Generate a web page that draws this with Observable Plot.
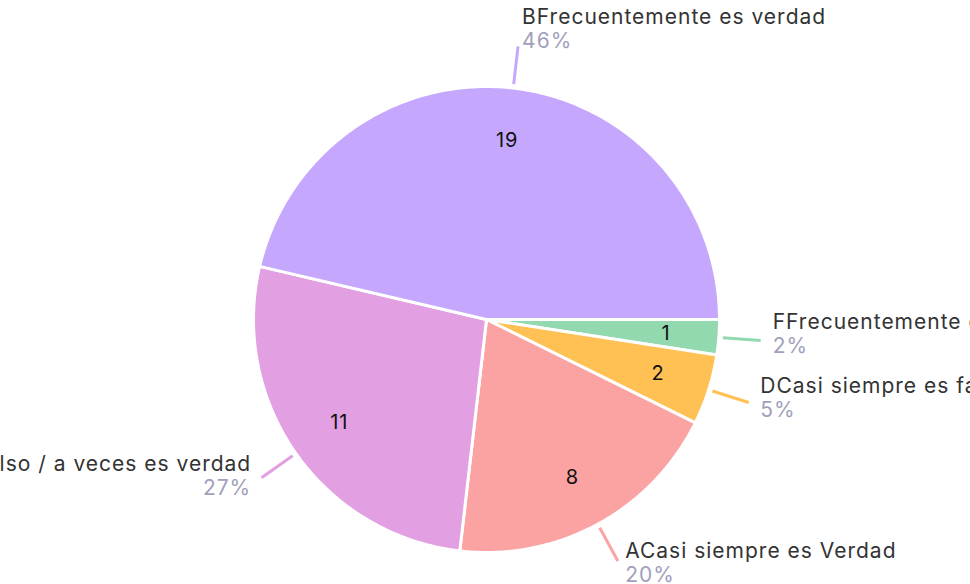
<!DOCTYPE html>
<html>
<head>
<meta charset="utf-8">
<script src="https://cdn.jsdelivr.net/npm/d3@7"></script>
<script src="https://cdn.jsdelivr.net/npm/@observablehq/plot@0.6"></script>
<style>
  html, body { margin: 0; padding: 0; background: #fff; }
  #chart svg { display: block; }
  #chart svg text { letter-spacing: 1px; }
</style>
</head>
<body>
<div id="chart"></div>
<script>
// Categories in clockwise order, starting at 3 o'clock
const categories = [
  "FFrecuentemente es falso",
  "DCasi siempre es falso",
  "ACasi siempre es Verdad",
  "CA veces es falso / a veces es verdad",
  "BFrecuentemente es verdad"
];
const counts = [1, 2, 8, 11, 19];
const percentLabels = ["2%", "5%", "20%", "27%", "46%"];
const sliceColors = ["#93d9af", "#ffc153", "#fba3a3", "#e2a0e3", "#c5a8fe"];

// layout constants
const W = 970, H = 584;
const CX = 486, CY = 319, RPX = 233; // pie centre and radius in pixels
const px = v => v / RPX;              // pixels -> data units

const total = d3.sum(counts);
let acc = 0;
const slices = categories.map((name, i) => {
  const a0 = -acc / total * 2 * Math.PI;          // clockwise on screen (negative math angle)
  acc += counts[i];
  const a1 = -acc / total * 2 * Math.PI;
  const mid = (a0 + a1) / 2;
  return {name, count: counts[i], pct: percentLabels[i], color: sliceColors[i], a0, a1, mid};
});

// polygon points for each slice
const polyPts = [];
for (const s of slices) {
  polyPts.push({name: s.name, x: 0, y: 0});
  const n = Math.max(8, Math.ceil(Math.abs(s.a1 - s.a0) / (2 * Math.PI) * 400));
  for (let k = 0; k <= n; k++) {
    const a = s.a0 + (s.a1 - s.a0) * k / n;
    polyPts.push({name: s.name, x: Math.cos(a), y: Math.sin(a)});
  }
}

const r1 = px(237), r2 = px(275), rIn = px(180);
const leaders = slices.map(s => ({
  name: s.name,
  x1: r1 * Math.cos(s.mid), y1: r1 * Math.sin(s.mid),
  x2: r2 * Math.cos(s.mid), y2: r2 * Math.sin(s.mid)
}));
const outer = slices.map(s => {
  const c = Math.cos(s.mid);
  const ex = r2 * c, ey = r2 * Math.sin(s.mid);
  const sinDown = -Math.sin(s.mid);
  const m = ey - px(10 * sinDown);          // midline between the two baselines
  const right = c >= -0.05;
  const gap = 3 + 9 * Math.abs(c);
  return {
    ...s, right,
    x: ex + px(right ? gap : -gap),
    yName: m + px(12),
    yPct: m - px(12)
  };
});

const colorScale = {type: "ordinal", domain: categories, range: sliceColors};
const font = "Inter, 'Noto Sans', sans-serif";

const chart = Plot.plot({
  width: W, height: H,
  marginTop: 0, marginRight: 0, marginBottom: 0, marginLeft: 0,
  x: {domain: [px(-CX), px(W - CX)], axis: null},
  y: {domain: [px(CY - H), px(CY)], axis: null},
  color: colorScale,
  style: {fontFamily: font, background: "white", overflow: "hidden"},
  marks: [
    Plot.line(polyPts, {x: "x", y: "y", z: "name", fill: "name", stroke: "white", strokeWidth: 3, curve: "linear-closed", strokeLinejoin: "round"}),
    Plot.link(leaders, {x1: "x1", y1: "y1", x2: "x2", y2: "y2", stroke: "name", strokeWidth: 3}),
    Plot.text(slices, {
      x: s => rIn * Math.cos(s.mid), y: s => rIn * Math.sin(s.mid),
      text: s => String(s.count), fill: "#111", fontSize: 20, textAnchor: "middle", lineAnchor: "middle"
    }),
    Plot.text(outer.filter(d => d.right), {x: "x", y: "yName", text: "name", fill: "#333", fontSize: 21, textAnchor: "start", lineAnchor: "bottom"}),
    Plot.text(outer.filter(d => d.right), {x: "x", y: "yPct", text: "pct", fill: "#a19fbc", fontSize: 21, textAnchor: "start", lineAnchor: "bottom"}),
    Plot.text(outer.filter(d => !d.right), {x: "x", y: "yName", text: "name", fill: "#333", fontSize: 21, textAnchor: "end", lineAnchor: "bottom"}),
    Plot.text(outer.filter(d => !d.right), {x: "x", y: "yPct", text: "pct", fill: "#a19fbc", fontSize: 21, textAnchor: "end", lineAnchor: "bottom"})
  ]
});
document.getElementById("chart").appendChild(chart);
</script>
</body>
</html>
